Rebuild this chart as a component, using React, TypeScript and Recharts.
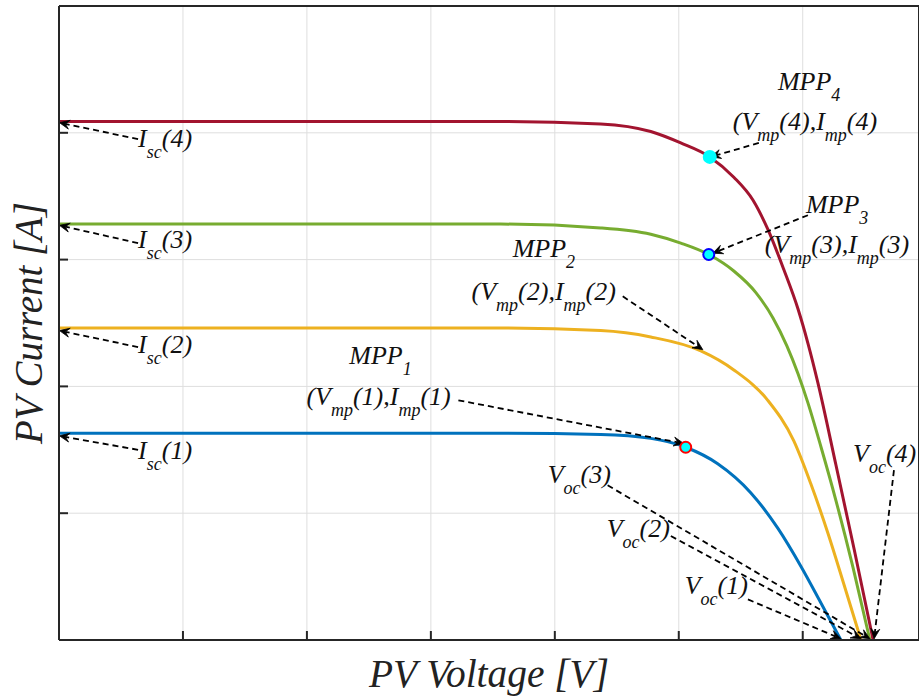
import React from 'react';
import { LineChart, Line, XAxis, YAxis, CartesianGrid, ReferenceDot, ReferenceLine } from 'recharts';

// axis ticks (volts / amps)
const voltageTicks = [0, 5, 10, 15, 20, 25, 30];
const currentTicks = [0, 1, 2, 3, 4, 5];

// I-V curves, one pair of arrays per irradiance level
const v1 = [0, 9.73, 17.81, 21.85, 23.87, 25.28, 26.57, 27.91, 29.0, 29.93, 30.74, 31.54];
const i1 = [1.63, 1.63, 1.63, 1.62, 1.59, 1.52, 1.39, 1.16, 0.88, 0.58, 0.29, 0];

const v2 = [0, 9.73, 17.81, 21.85, 23.87, 25.89, 27.22, 28.59, 29.64, 30.33, 31.02, 31.66, 32.35];
const i2 = [2.46, 2.46, 2.46, 2.44, 2.39, 2.28, 2.13, 1.89, 1.57, 1.23, 0.84, 0.44, 0];

const v3 = [0, 9.73, 17.81, 21.85, 23.87, 25.08, 26.21, 27.22, 28.11, 28.8, 29.36, 29.81, 30.21, 30.74, 31.34, 32.03, 32.71];
const i3 = [3.28, 3.28, 3.28, 3.25, 3.2, 3.13, 3.04, 2.91, 2.74, 2.54, 2.32, 2.1, 1.87, 1.52, 1.1, 0.57, 0];

const v4 = [0, 9.73, 17.81, 21.85, 23.87, 25.08, 26.25, 27.22, 27.99, 28.59, 29.24, 29.81, 30.21, 30.61, 31.34, 32.07, 32.84];
const i4 = [4.09, 4.09, 4.09, 4.07, 4.01, 3.92, 3.81, 3.65, 3.47, 3.24, 2.92, 2.61, 2.34, 2.03, 1.38, 0.72, 0];

// maximum power points
const mppVoltage = [25.28, 25.97, 26.21, 26.25];
const mppCurrent = [1.52, 2.29, 3.04, 3.81];

// annotation texts, anchored at (V, I) of their left baseline
const labelText = [
  'MPP_{4}', '(V_{mp}(4),I_{mp}(4)', 'MPP_{3}', '(V_{mp}(3),I_{mp}(3)',
  'MPP_{2}', '(V_{mp}(2),I_{mp}(2)', 'MPP_{1}', '(V_{mp}(1),I_{mp}(1)',
  'I_{sc}(4)', 'I_{sc}(3)', 'I_{sc}(2)', 'I_{sc}(1)',
  'V_{oc}(3)', 'V_{oc}(2)', 'V_{oc}(1)', 'V_{oc}(4)',
];
const labelV = [29.0, 27.18, 30.13, 28.47, 18.3, 16.64, 11.71, 9.98, 3.19, 3.19, 3.19, 3.19, 19.71, 22.09, 25.24, 32.03];
const labelI = [4.34, 4.02, 3.37, 3.05, 3.02, 2.68, 2.18, 1.85, 3.89, 3.09, 2.26, 1.43, 1.24, 0.81, 0.36, 1.4];

// dashed arrows: tail -> head
const arrowFromV = [28.23, 30.21, 22.74, 16.11, 3.19, 3.19, 3.19, 3.19, 22.13, 24.68, 27.79, 33.68];
const arrowFromI = [3.92, 3.35, 2.71, 1.89, 3.95, 3.13, 2.31, 1.5, 1.22, 0.82, 0.32, 1.34];
const arrowToV = [26.29, 26.37, 25.97, 25.2, 0.02, 0.02, 0.02, 0.02, 32.71, 32.35, 31.54, 32.88];
const arrowToI = [3.81, 3.05, 2.29, 1.55, 4.08, 3.27, 2.44, 1.61, 0.01, 0.01, 0.01, 0.01];

const toPoints = (v: number[], i: number[]) => v.map((x, k) => ({ v: x, i: i[k] }));

const SERIF = "'Liberation Serif', 'Times New Roman', serif";
const AXIS = '#262626';

const markerStyle = [
  { r: 5.5, fill: '#00FFFF', stroke: '#FF0000' },
  null,
  { r: 5.5, fill: '#00FFFF', stroke: '#0000FF' },
  { r: 6, fill: '#00FFFF', stroke: '#00FFFF' },
];

const RichText = ({ x, y, text }: { x: number; y: number; text: string }) => {
  const parts = text.split(/_\{([^}]*)\}/);
  let shift = 0;
  return (
    <text x={x} y={y} fontFamily={SERIF} fontStyle="italic" fontSize={26} fill="#111">
      {parts.map((p, k) => {
        if (!p) return null;
        const sub = k % 2 === 1;
        const target = sub ? 11 : 0;
        const dy = target - shift;
        shift = target;
        return (
          <tspan key={k} dy={dy} fontSize={sub ? 18 : 26}>
            {p}
          </tspan>
        );
      })}
    </text>
  );
};

const DashArrow = (props: any) => {
  const { x1, y1, x2, y2 } = props;
  const a = Math.atan2(y2 - y1, x2 - x1);
  const c = Math.cos(a);
  const s = Math.sin(a);
  const L = 10;
  const W = 4.5;
  const N = 6;
  const bx = x2 - L * c;
  const by = y2 - L * s;
  const nx = x2 - N * c;
  const ny = y2 - N * s;
  const d = `M${x2},${y2} L${bx - W * s},${by + W * c} L${nx},${ny} L${bx + W * s},${by - W * c} Z`;
  return (
    <g>
      <line x1={x1} y1={y1} x2={nx} y2={ny} stroke="#000" strokeWidth={1.8} strokeDasharray="6 4" />
      <path d={d} fill="#000" stroke="#000" strokeWidth={0.8} />
    </g>
  );
};

const hiddenTick = () => <g />;

const axisCommon = {
  interval: 0 as const,
  mirror: true,
  tickSize: 9,
  tick: hiddenTick,
  axisLine: { stroke: AXIS, strokeWidth: 2 },
  tickLine: { stroke: AXIS, strokeWidth: 2 },
};

const App = () => {
  return (
    <div style={{ position: 'absolute', left: 0, top: 0, background: '#fff' }}>
      <LineChart width={919} height={700} margin={{ top: 6, right: 0, bottom: 60, left: 59 }}>
        <CartesianGrid stroke="#dedede" strokeWidth={1} />
        <XAxis
          {...axisCommon}
          type="number"
          dataKey="v"
          domain={[0, 34.69]}
          ticks={voltageTicks}
          height={1}
          label={{
            content: (p: any) => (
              <text
                x={p.viewBox.x + p.viewBox.width / 2}
                y={p.viewBox.y + 48}
                textAnchor="middle"
                fontFamily={SERIF}
                fontStyle="italic"
                fontSize={40}
                fill="#222"
                textLength={240}
                lengthAdjust="spacingAndGlyphs"
              >
                PV Voltage [V]
              </text>
            ),
          }}
        />
        <XAxis
          {...axisCommon}
          xAxisId="top"
          orientation="top"
          type="number"
          domain={[0, 34.69]}
          ticks={voltageTicks}
          height={1}
        />
        <YAxis
          {...axisCommon}
          type="number"
          domain={[0, 5]}
          ticks={currentTicks}
          width={1}
          label={{
            content: (p: any) => {
              const cx = p.viewBox.x - 17;
              const cy = p.viewBox.y + p.viewBox.height / 2;
              return (
                <text
                  x={cx}
                  y={cy}
                  transform={`rotate(-90, ${cx}, ${cy})`}
                  textAnchor="middle"
                  fontFamily={SERIF}
                  fontStyle="italic"
                  fontSize={40}
                  fill="#222"
                  textLength={242}
                  lengthAdjust="spacingAndGlyphs"
                >
                  PV Current [A]
                </text>
              );
            },
          }}
        />
        <YAxis
          {...axisCommon}
          yAxisId="right"
          orientation="right"
          type="number"
          domain={[0, 5]}
          ticks={currentTicks}
          width={1}
        />

        <Line data={toPoints(v1, i1)} dataKey="i" type="monotone" stroke="#0072BD" strokeWidth={3} dot={false} isAnimationActive={false} />
        <Line data={toPoints(v2, i2)} dataKey="i" type="monotone" stroke="#EDB120" strokeWidth={3} dot={false} isAnimationActive={false} />
        <Line data={toPoints(v3, i3)} dataKey="i" type="monotone" stroke="#77AC30" strokeWidth={3} dot={false} isAnimationActive={false} />
        <Line data={toPoints(v4, i4)} dataKey="i" type="monotone" stroke="#A2142F" strokeWidth={3} dot={false} isAnimationActive={false} />

        {arrowFromV.map((v, k) => (
          <ReferenceLine
            key={`a${k}`}
            segment={[
              { x: v, y: arrowFromI[k] },
              { x: arrowToV[k], y: arrowToI[k] },
            ]}
            ifOverflow="visible"
            shape={DashArrow}
          />
        ))}

        {mppVoltage.map((v, k) =>
          markerStyle[k] ? (
            <ReferenceDot
              key={`m${k}`}
              x={v}
              y={mppCurrent[k]}
              r={markerStyle[k]!.r}
              fill={markerStyle[k]!.fill}
              stroke={markerStyle[k]!.stroke}
              strokeWidth={2}
              ifOverflow="visible"
            />
          ) : null
        )}

        {labelText.map((t, k) => (
          <ReferenceDot
            key={`t${k}`}
            x={labelV[k]}
            y={labelI[k]}
            r={0}
            ifOverflow="visible"
            shape={(p: any) => <RichText x={p.cx} y={p.cy} text={t} />}
          />
        ))}
      </LineChart>
    </div>
  );
};

export default App;
